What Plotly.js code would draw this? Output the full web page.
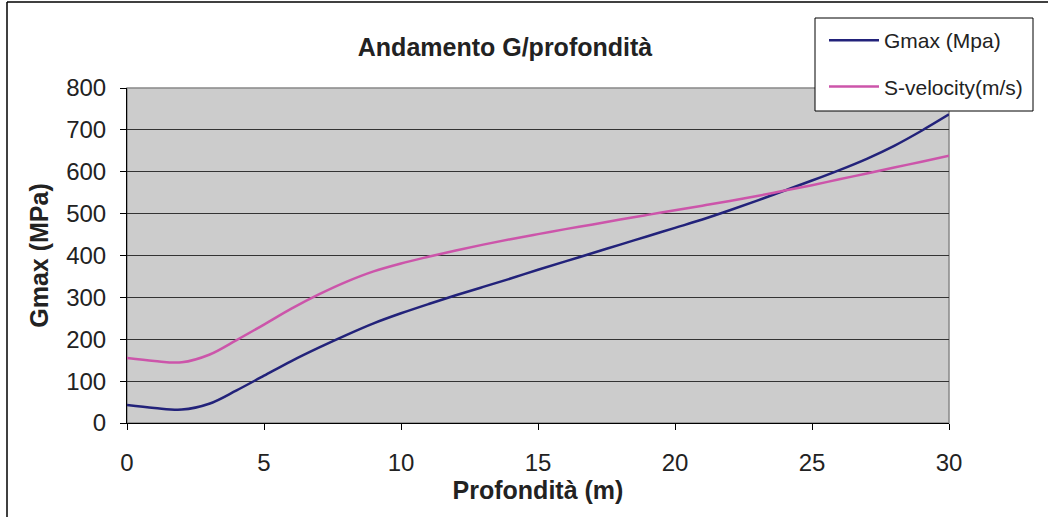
<!DOCTYPE html>
<html>
<head>
<meta charset="utf-8">
<script src="https://cdn.plot.ly/plotly-3.0.1.min.js"></script>
<style>html,body{margin:0;padding:0;background:#fff;}#chart{width:1048px;height:517px;}</style>
</head>
<body>
<div id="chart"></div>
<script>
const depth = [0,1,2,3,4,5,6,7,8,9,10,11,12,13,14,15,16,17,18,19,20,21,22,23,24,25,26,27,28,29,30];
const gmax = [43,36,32,46,78,113,148,180,210,238,262,284,305,325,345,366,386,406,426,446,466,486,508,531,555,579,604,631,662,698,737];
const svel = [155,148,145,163,198,235,273,307,337,362,381,397,412,426,439,451,463,474,486,497,508,519,530,542,555,568,582,596,610,624,638];
const seriesNames = ["Gmax (Mpa)", "S-velocity(m/s)"];
const xTicks = [0,5,10,15,20,25,30];
const yTicks = [0,100,200,300,400,500,600,700,800];

const fontFam = "Liberation Sans, Arial, sans-serif";
const W = 1048, H = 517, L = 127, R = 949, T = 88, B = 423;
const px = v => (v - L) / (R - L);
const py = v => (B - v) / (B - T);

const traces = [
  {x: depth, y: gmax, name: seriesNames[0], mode: "lines", legendgroup: "a",
   line: {color: "#22227a", width: 2.5, shape: "spline", smoothing: 1}},
  {x: depth, y: svel, name: seriesNames[1], mode: "lines", legendgroup: "b",
   line: {color: "#cc55aa", width: 2.5, shape: "spline", smoothing: 1}}
];
const layout = {
  width: W, height: H,
  margin: {l: L, r: W - R, t: T, b: H - B, autoexpand: false},
  paper_bgcolor: "#ffffff",
  plot_bgcolor: "#cccccc",
  font: {family: fontFam, color: "#222222", size: 24},
  title: {text: "<b>Andamento G/profondità</b>", x: 505/W, xanchor: "center",
          y: 1 - 47/H, yanchor: "middle", yref: "container", xref: "container",
          font: {size: 25, family: fontFam, color: "#222"}},
  xaxis: {range: [0, 30], tickvals: xTicks, ticktext: xTicks.map(String),
          showgrid: false, zeroline: false, showline: true, linecolor: "#000", linewidth: 1,
          ticks: "outside", ticklen: 6, tickcolor: "#000", ticklabelstandoff: 12,
          tickfont: {size: 24},
          title: {text: "<b>Profondità (m)</b>", standoff: 2, font: {size: 25}}},
  yaxis: {range: [0, 800], tickvals: yTicks, ticktext: yTicks.map(String),
          showgrid: true, gridcolor: "#333333", gridwidth: 1, zeroline: false,
          showline: true, linecolor: "#000", linewidth: 1,
          ticks: "outside", ticklen: 6, tickcolor: "#000", ticklabelstandoff: 9,
          tickfont: {size: 24},
          title: {text: "<b>Gmax (MPa)</b>", standoff: 10, font: {size: 25}}},
  showlegend: true,
  legend: {xref: "container", yref: "container", x: 824/W, y: 1 - 20/H,
           xanchor: "left", yanchor: "top", bgcolor: "rgba(0,0,0,0)",
           borderwidth: 0, font: {size: 21, family: fontFam, color: "#222"},
           traceorder: "grouped", tracegroupgap: 16, itemwidth: 50,
           entrywidth: 205},
  shapes: [
    {type: "rect", xref: "paper", yref: "paper", x0: 0, x1: 1, y0: 0, y1: 1,
     line: {color: "#888888", width: 1.5}, layer: "below"},
    {type: "line", xref: "paper", yref: "paper", x0: px(7), x1: px(7),
     y0: py(H), y1: py(2), line: {color: "#000", width: 1.5}},
    {type: "line", xref: "paper", yref: "paper", x0: px(7), x1: px(W),
     y0: py(2), y1: py(2), line: {color: "#000", width: 1.5}},
    {type: "rect", xref: "paper", yref: "paper", x0: px(815), x1: px(1033),
     y0: py(111), y1: py(18), fillcolor: "#ffffff", line: {color: "#000", width: 1}, layer: "above"}
  ]
};
Plotly.newPlot("chart", traces, layout, {displayModeBar: false, staticPlot: true});
</script>
</body>
</html>
